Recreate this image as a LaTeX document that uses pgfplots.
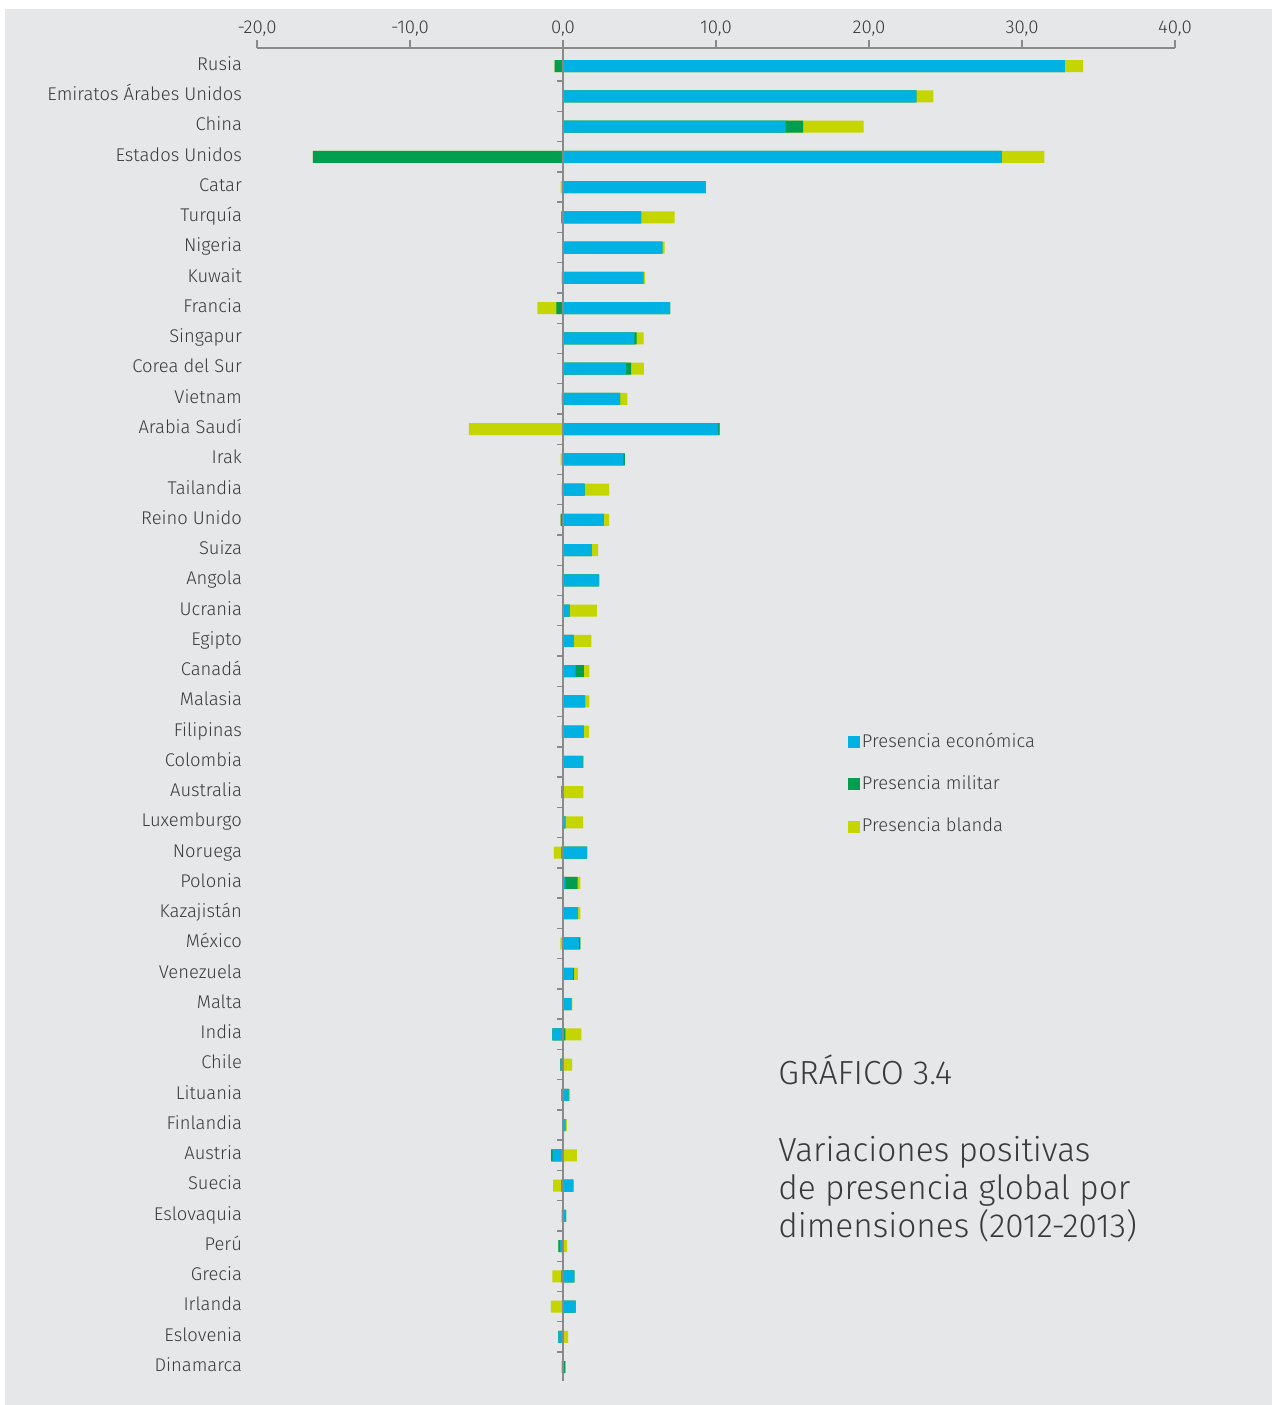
\documentclass[border=0pt]{standalone}
\usepackage{pgfplots}
\usepackage{pgfplotstable}
\pgfplotsset{compat=1.18}
\usepackage{fontspec}
\setmainfont{Fira Sans}[UprightFont={* Light}]
\definecolor{eco}{HTML}{00B2E3}
\definecolor{mil}{HTML}{009E4E}
\definecolor{soft}{HTML}{C5D500}
\definecolor{bg}{HTML}{E6E7E8}
\definecolor{txt}{HTML}{3A3A3A}
\definecolor{axisgray}{HTML}{8A8A8A}

\pgfplotstableread{
i e m s
0 32.8 -0.55 1.2
1 23.1 0 1.1
2 14.55 1.15 3.95
3 28.66 -16.34 2.8
4 9.32 0 -0.15
5 5.1 -0.1 2.2
6 6.5 0 0.15
7 5.26 -0.08 0.1
8 7.0 -0.43 -1.25
9 4.67 0.15 0.45
10 4.13 0.33 0.82
11 3.74 -0.08 0.46
12 10.14 0.1 -6.16
13 3.95 0.1 -0.15
14 1.42 -0.08 1.6
15 2.67 -0.15 0.35
16 1.88 0 0.42
17 2.36 0 -0.08
18 0.43 0 1.78
19 0.7 0 1.15
20 0.82 0.55 0.35
21 1.45 0 0.28
22 1.36 -0.08 0.35
23 1.29 0 0.07
24 0 -0.1 1.33
25 0.15 0 1.17
26 1.58 -0.1 -0.5
27 0.15 0.8 0.18
28 0.95 0 0.18
29 1.05 0.08 -0.17
30 0.64 0.07 0.27
31 0.55 0 0.07
32 -0.7 0.15 1.05
33 -0.17 0 0.6
34 0.37 -0.1 0.1
35 0.15 0 0.1
36 -0.68 -0.1 0.9
37 0.68 -0.1 -0.55
38 0.2 0 -0.1
39 -0.2 -0.1 0.27
40 0.75 -0.1 -0.6
41 0.83 0 -0.8
42 -0.3 0 0.33
43 0 0.15 -0.1
}\data

\begin{document}
\begin{tikzpicture}[x=1pt,y=1pt]
\fill[white] (0,0) rectangle (636,702.5);
\fill[bg] (2.5,0) rectangle (636,698);
\begin{axis}[
  at={(128.5pt,12.15pt)}, anchor=south west,
  scale only axis, width=459pt, height=666.35pt,
  xmin=-20, xmax=40, ymin=-0.595, ymax=43.45, y dir=reverse,
  axis x line*=top, axis y line*=left,
  y axis line style={draw=none},
  x axis line style={axisgray, line width=0.6pt, -},
  xtick={-20,-10,0,10,20,30,40},
  xticklabels={{-20,0},{-10,0},{0,0},{10,0},{20,0},{30,0},{40,0}},
  tick align=outside,
  xtick style={axisgray, line width=0.6pt},
  major tick length=4pt,
  xticklabel style={font=\fontsize{9.3}{10}\selectfont, text=txt, yshift=-1.5pt},
  ytick={0,...,43},
  ytick style={draw=none},
  yticklabels={Rusia,Emiratos Árabes Unidos,China,Estados Unidos,Catar,Turquía,Nigeria,Kuwait,Francia,Singapur,Corea del Sur,Vietnam,Arabia Saudí,Irak,Tailandia,Reino Unido,Suiza,Angola,Ucrania,Egipto,Canadá,Malasia,Filipinas,Colombia,Australia,Luxemburgo,Noruega,Polonia,Kazajistán,México,Venezuela,Malta,India,Chile,Lituania,Finlandia,Austria,Suecia,Eslovaquia,Perú,Grecia,Irlanda,Eslovenia,Dinamarca},
  yticklabel style={font=\fontsize{9.2}{10}\selectfont, text=txt, yshift=0.3pt,
    text height=0.72em, text depth=0.22em},
  legend cell align=left,
  legend style={at={(axis cs:18.6,21.96)}, anchor=north west, draw=none, fill=none,
    row sep=10.75pt, inner sep=0pt,
    nodes={inner sep=1pt, text=txt, font=\fontsize{9.2}{10}\selectfont}},
  every axis plot/.append style={xbar, bar width=6pt, bar shift=0pt, draw=none, forget plot},
]
% negative side (outermost first)
\addplot[fill=soft] table[x expr={min(\thisrow{e},0)+min(\thisrow{m},0)+min(\thisrow{s},0)}, y=i]{\data};
\addplot[fill=mil] table[x expr={min(\thisrow{e},0)+min(\thisrow{m},0)}, y=i]{\data};
\addplot[fill=eco] table[x expr={min(\thisrow{e},0)}, y=i]{\data};
% positive side
\addplot[fill=soft] table[x expr={max(\thisrow{e},0)+max(\thisrow{m},0)+max(\thisrow{s},0)}, y=i]{\data};
\addplot[fill=mil] table[x expr={max(\thisrow{e},0)+max(\thisrow{m},0)}, y=i]{\data};
\addplot[fill=eco] table[x expr={max(\thisrow{e},0)}, y=i]{\data};

\addlegendimage{legend image code/.code={\fill[eco] (0pt,-3pt) rectangle (6pt,3pt);}}
\addlegendentry{Presencia económica}
\addlegendimage{legend image code/.code={\fill[mil] (0pt,-3pt) rectangle (6pt,3pt);}}
\addlegendentry{Presencia militar}
\addlegendimage{legend image code/.code={\fill[soft] (0pt,-3pt) rectangle (6pt,3pt);}}
\addlegendentry{Presencia blanda}

\draw[axisgray, line width=0.7pt] (axis cs:0,-0.595) -- (axis cs:0,43.45);
\pgfplotsinvokeforeach{0.5,1.5,...,43.5}{
  \draw[axisgray, line width=0.7pt] (axis cs:0,#1) -- ([xshift=-2.8pt]axis cs:0,#1);
}
\end{axis}
\node[anchor=base west, font=\fontsize{16.7}{19}\selectfont, text=txt, inner sep=0pt] at (389,160) {GRÁFICO 3.4};
\node[anchor=base west, font=\fontsize{16.7}{19}\selectfont, text=txt, inner sep=0pt] at (389,121.5) {Variaciones positivas};
\node[anchor=base west, font=\fontsize{16.7}{19}\selectfont, text=txt, inner sep=0pt] at (389,102.5) {de presencia global por};
\node[anchor=base west, font=\fontsize{16.7}{19}\selectfont, text=txt, inner sep=0pt] at (389,83.5) {dimensiones (2012-2013)};
\pgfresetboundingbox
\useasboundingbox (0,0) rectangle (636,702.5);
\end{tikzpicture}
\end{document}
